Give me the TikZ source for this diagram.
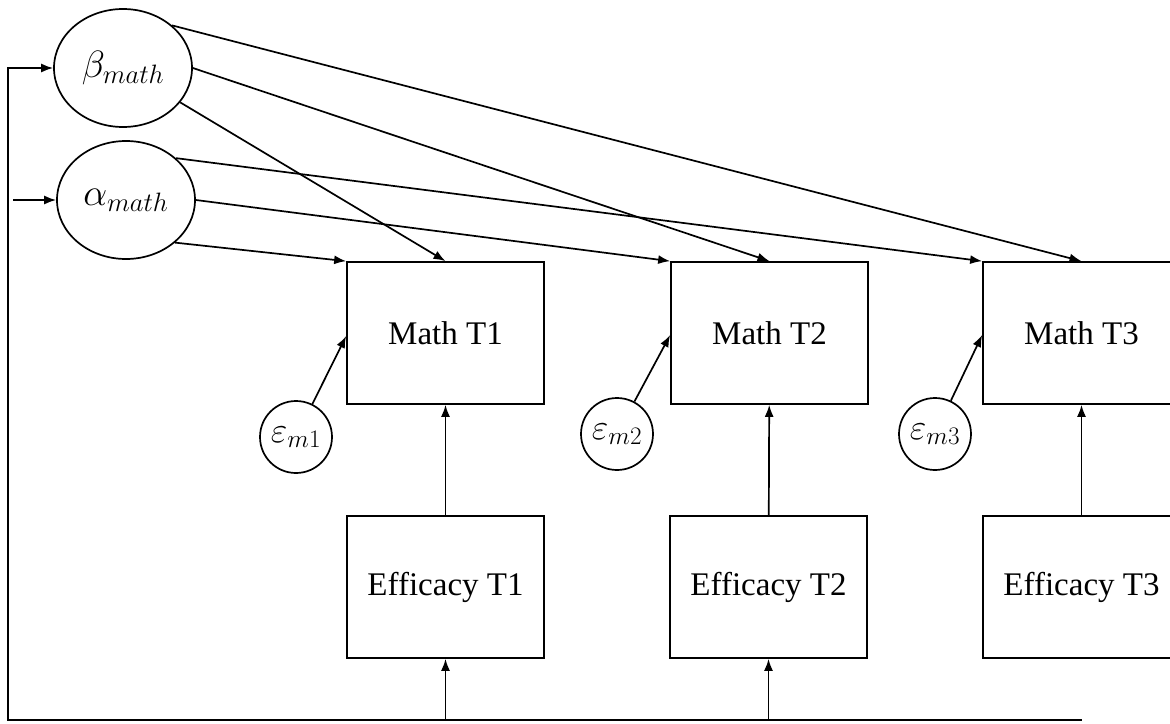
\RequirePackage{fix-cm}
\documentclass[tikz,border=0pt]{standalone}
\usepackage{fontspec}
\setmainfont{Liberation Serif}
\usetikzlibrary{arrows.meta,shapes.geometric,calc}
\begin{document}
\begin{tikzpicture}[x=1pt,y=-1pt,
  line width=1.7pt,
  arr/.style={-{Latex[length=12pt,width=9pt]}},
  obs/.style={draw, rectangle, minimum width=197pt, minimum height=142pt, inner sep=0pt,
    font=\fontsize{33}{40}\selectfont},
  lat/.style={draw, ellipse, minimum width=138pt, minimum height=118pt, inner sep=0pt,
    font=\fontsize{38}{44}\selectfont},
  err/.style={draw, circle, minimum size=72pt, inner sep=0pt,
    font=\fontsize{36}{40}\selectfont}]
\useasboundingbox (0,0) rectangle (1170,723);
\clip (0,0) rectangle (1170,723);

% growth factors
\node[lat] (beta)  at (123,68)  {$\beta_{math}$};
\node[lat] (alpha) at (126,200) {$\alpha_{math}$};

% repeated measures
\node[obs] (m1) at (445.5,333) {Math T1};
\node[obs] (m2) at (769.5,333) {Math T2};
\node[obs] (m3) at (1081.5,333) {Math T3};
\node[obs] (e1) at (445.5,587) {Efficacy T1};
\node[obs] (e2) at (768.5,587) {Efficacy T2};
\node[obs] (e3) at (1081.5,587) {Efficacy T3};

% residuals
\node[err] (r1) at (296,437) {$\varepsilon_{m1}$};
\node[err] (r2) at (617,434) {$\varepsilon_{m2}$};
\node[err] (r3) at (935,434) {$\varepsilon_{m3}$};

% loadings
\draw[arr] (beta.-31) -- (m1.north);
\draw[arr] (beta.0)   -- (m2.north);
\draw[arr] (beta.41)  -- (m3.north);
\draw[arr] (alpha.-41) -- (m1.north west);
\draw[arr] (alpha.0)   -- (m2.north west);
\draw[arr] (alpha.40)  -- (m3.north west);

% residual paths
\draw[arr] (r1) -- ([yshift=-3pt]m1.west);
\draw[arr] (r2) -- ([yshift=-2pt]m2.west);
\draw[arr] (r3) -- ([yshift=-2pt]m3.west);

% time-varying covariate
\draw[arr] (e1) -- (m1);
\draw[arr] (e2) -- (m2);
\draw[arr] (e3) -- (m3);

% covariate feedback loop
\coordinate (fb) at (8,720);
\coordinate (ain) at (13,200);
\draw[arr] (e3.south |- fb) -- (fb) -- (fb |- beta.west) -- (beta.west);
\draw[arr] (e1.south |- fb) -- (e1.south);
\draw[arr] (e2.south |- fb) -- (e2.south);
\draw[arr] (ain) -- (alpha.west);
\end{tikzpicture}
\end{document}
